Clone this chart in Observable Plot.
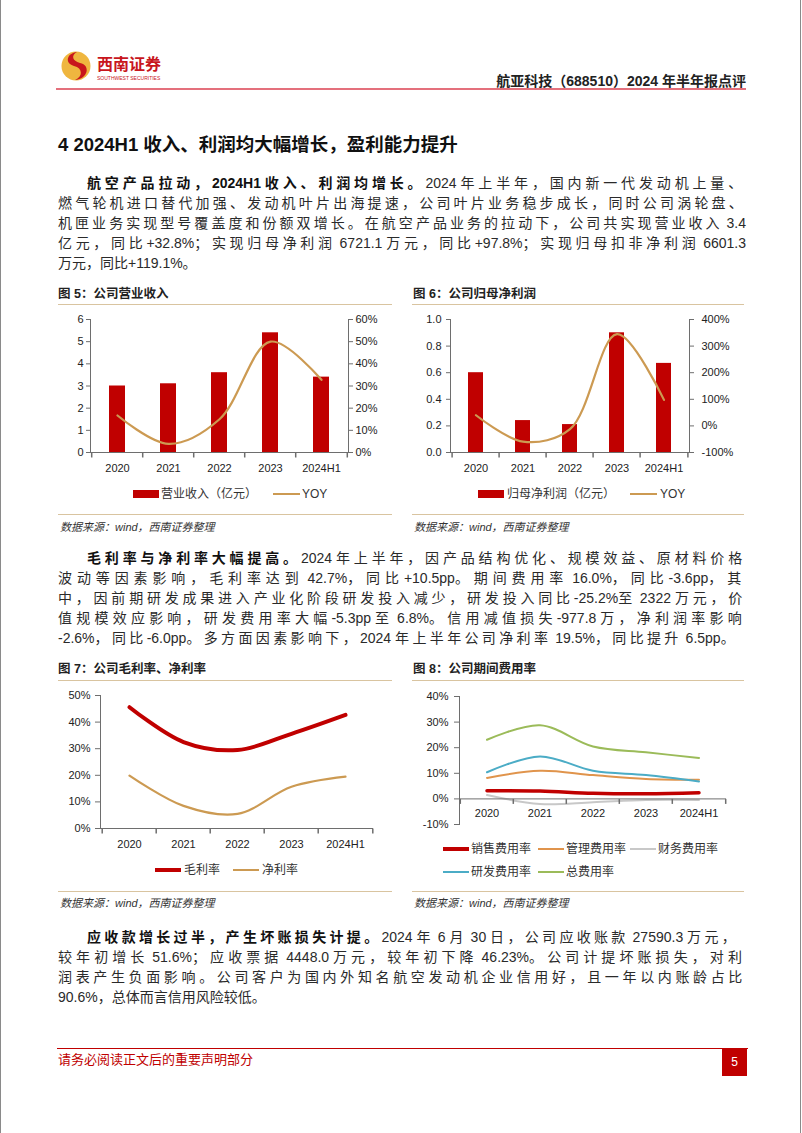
<!DOCTYPE html>
<html><head><meta charset="utf-8">
<script src="https://cdn.jsdelivr.net/npm/d3@7"></script>
<script src="https://cdn.jsdelivr.net/npm/@observablehq/plot@0.6"></script>
<style>
body{margin:0;background:#fff;}
#page{position:relative;width:802px;height:1133px;overflow:hidden;background:#fff;font-family:"Liberation Sans","Noto Sans CJK SC",sans-serif;color:#2a2a2a;}
.abs{position:absolute;white-space:nowrap;}
.ln{position:absolute;left:58px;width:688px;height:20px;line-height:20px;font-size:14px;text-align:left;white-space:nowrap;color:#2a2a2a;}
.ln.first{left:87px;width:659px;}
.ln b{font-weight:bold;color:#111;}
.ln .lat{letter-spacing:0;}
.figt{position:absolute;font-size:12.5px;font-weight:bold;line-height:16px;color:#222;white-space:nowrap;}
.rule{position:absolute;height:1px;background:#d9c4a0;}
.src{position:absolute;font-size:11px;font-style:italic;color:#333;white-space:nowrap;line-height:14px;}
.lg{position:absolute;font-size:12px;line-height:14px;color:#333;white-space:nowrap;}
.sw{position:absolute;}
</style>
</head>
<body>
<div id="page">
  <div class="abs" style="left:0;top:0;width:1px;height:1133px;background:#8a8a8a"></div>
  <div class="abs" style="left:800px;top:0;width:1px;height:1133px;background:#8a8a8a"></div>

  <svg class="abs" style="left:61px;top:51px" width="30" height="30" viewBox="0 0 30 30">
    <circle cx="15" cy="15" r="14.5" fill="#EFB63F"/>
    <path d="M16 1 C6 2,3 12,13 15 C22 17,22 26,14 29 C27 28,30 14,19 12 C11 10,10 4,16 1Z" fill="#C8161D"/>
  </svg>
  <div class="abs" style="left:97px;top:56px;font-size:16px;line-height:18px;font-weight:bold;color:#C8161D;">西南证券</div>
  <div class="abs" style="left:97px;top:75px;font-size:5px;line-height:6px;color:#C8161D;">SOUTHWEST SECURITIES</div>
  <div class="abs" style="right:56px;top:72px;font-size:14px;line-height:18px;font-weight:bold;color:#222;">航亚科技（688510）2024 年半年报点评</div>
  <div class="abs" style="left:56px;top:88px;width:690px;height:2px;background:#E4707C"></div>

  <div class="abs" style="left:58px;top:133px;font-size:18.5px;line-height:24px;font-weight:bold;color:#111;">4 2024H1 收入、利润均大幅增长，盈利能力提升</div>

  <div class="ln first just" style="top:173px"><b>航空产品拉动，2024H1 收入、利润均增长。</b>2024 年上半年，国内新一代发动机上量、</div>
  <div class="ln just" style="top:193px">燃气轮机进口替代加强、发动机叶片出海提速，公司叶片业务稳步成长，同时公司涡轮盘、</div>
  <div class="ln just" style="top:213px">机匣业务实现型号覆盖度和份额双增长。在航空产品业务的拉动下，公司共实现营业收入 3.4</div>
  <div class="ln just" style="top:233px">亿元，同比+32.8%；实现归母净利润 6721.1 万元，同比+97.8%；实现归母扣非净利润 6601.3</div>
  <div class="ln" style="top:253px">万元，同比+119.1%。</div>

  <div class="figt" style="left:58px;top:286px">图 5：公司营业收入</div>
  <div class="figt" style="left:413px;top:286px">图 6：公司归母净利润</div>
  <div class="rule" style="left:58px;top:304px;width:334px"></div>
  <div class="rule" style="left:412px;top:304px;width:332px"></div>
  <div class="rule" style="left:58px;top:514px;width:334px"></div>
  <div class="rule" style="left:412px;top:514px;width:332px"></div>
  <div class="src" style="left:60px;top:520px">数据来源：wind，西南证券整理</div>
  <div class="src" style="left:414px;top:520px">数据来源：wind，西南证券整理</div>

  <div class="ln first just" style="top:548px"><b>毛利率与净利率大幅提高。</b>2024 年上半年，因产品结构优化、规模效益、原材料价格</div>
  <div class="ln just" style="top:568px">波动等因素影响，毛利率达到 42.7%，同比+10.5pp。期间费用率 16.0%，同比-3.6pp，其</div>
  <div class="ln just" style="top:588px">中，因前期研发成果进入产业化阶段研发投入减少，研发投入同比-25.2%至 2322 万元，价</div>
  <div class="ln just" style="top:608px">值规模效应影响，研发费用率大幅-5.3pp 至 6.8%。信用减值损失-977.8 万，净利润率影响</div>
  <div class="ln just" style="top:628px;width:680px">-2.6%，同比-6.0pp。多方面因素影响下，2024 年上半年公司净利率 19.5%，同比提升 6.5pp。</div>

  <div class="figt" style="left:58px;top:661px">图 7：公司毛利率、净利率</div>
  <div class="figt" style="left:413px;top:661px">图 8：公司期间费用率</div>
  <div class="rule" style="left:58px;top:680px;width:334px"></div>
  <div class="rule" style="left:412px;top:680px;width:332px"></div>
  <div class="rule" style="left:58px;top:891px;width:334px"></div>
  <div class="rule" style="left:412px;top:891px;width:332px"></div>
  <div class="src" style="left:60px;top:896px">数据来源：wind，西南证券整理</div>
  <div class="src" style="left:414px;top:896px">数据来源：wind，西南证券整理</div>

  <div class="ln first just" style="top:927px;width:652px"><b>应收款增长过半，产生坏账损失计提。</b>2024 年 6 月 30 日，公司应收账款 27590.3 万元，</div>
  <div class="ln just" style="top:947px">较年初增长 51.6%；应收票据 4448.0 万元，较年初下降 46.23%。公司计提坏账损失，对利</div>
  <div class="ln just" style="top:967px">润表产生负面影响。公司客户为国内外知名航空发动机企业信用好，且一年以内账龄占比</div>
  <div class="ln" style="top:987px">90.6%，总体而言信用风险较低。</div>

  <div class="abs" style="left:57px;top:1048px;width:691px;height:1px;background:#C00000"></div>
  <div class="abs" style="left:58px;top:1052px;font-size:13px;line-height:16px;color:#C00000;">请务必阅读正文后的重要声明部分</div>
  <div class="abs" style="left:722px;top:1049px;width:25px;height:27px;background:#C00000;color:#fff;font-size:12px;line-height:27px;text-align:center;">5</div>
</div>

<script>
// ---------------- data ----------------
const years = ["2020", "2021", "2022", "2023", "2024H1"];
const revenue = [3.0, 3.1, 3.6, 5.4, 3.4];            // 亿元
const revenueYoy = [16.7, 3.9, 15.0, 50.0, 32.8];       // %
const netProfit = [0.60, 0.24, 0.21, 0.90, 0.67];      // 亿元
const netProfitYoy = [40, -59, -12, 345, 97.8];        // %
const grossMargin = [45.6, 32.5, 29.5, 35.6, 42.7];    // %
const netMargin = [19.9, 8.5, 5.5, 15.7, 19.5];        // %
const salesRate = [3.2, 3.1, 2.2, 2.0, 2.4];
const mgmtRate = [8.2, 11.0, 9.3, 7.8, 7.5];
const finRate = [1.5, -2.0, -1.3, -0.4, -0.4];
const rdRate = [10.4, 16.6, 11.0, 9.3, 6.8];
const totalRate = [23.1, 28.8, 20.5, 18.2, 16.0];
const revTicks = [0, 1, 2, 3, 4, 5, 6];
const revYoyTicks = [0, 10, 20, 30, 40, 50, 60];
const npTicks = [0, 0.2, 0.4, 0.6, 0.8, 1.0];
const npYoyTicks = [-100, 0, 100, 200, 300, 400];
const marginTicks = [0, 10, 20, 30, 40, 50];
const rateTicks = [-10, 0, 10, 20, 30, 40];
const revLabels = ["营业收入（亿元）", "YOY"];
const npLabels = ["归母净利润（亿元）", "YOY"];
const marginLabels = ["毛利率", "净利率"];
const rateNames = ["销售费用率", "管理费用率", "财务费用率", "研发费用率", "总费用率"];
const rateSeries = [salesRate, mgmtRate, finRate, rdRate, totalRate];

// ---------------- styles ----------------
const FONT = '"Liberation Sans","Noto Sans CJK SC",sans-serif';
const AXIS = "#6e6e6e";
const TXT = "#222";
const RED = "#C00000";
const TAN = "#CC9A52";
const rateColors = ["#C00000", "#E0944C", "#C8C8C8", "#4BACC6", "#9BBB59"];
const rateWidths = [3.5, 2, 2, 2, 2];

const page = document.getElementById("page");

// even inter-character justification of body lines (Latin runs keep normal spacing)
function wrapLatin(node) {
  [...node.childNodes].forEach(ch => {
    if (ch.nodeType === 3) {
      const parts = ch.textContent.split(/([\x20-\x7e]+)/);
      const frag = document.createDocumentFragment();
      parts.forEach(p => {
        if (!p) return;
        if (/^[\x20-\x7e]+$/.test(p)) {
          const s = document.createElement("span");
          s.className = "lat";
          s.textContent = p;
          frag.appendChild(s);
        } else frag.appendChild(document.createTextNode(p));
      });
      ch.replaceWith(frag);
    } else if (ch.nodeType === 1) wrapLatin(ch);
  });
}
document.querySelectorAll(".ln.just").forEach(el => {
  wrapLatin(el);
  const target = el.clientWidth;
  const range = document.createRange();
  range.selectNodeContents(el);
  const w = range.getBoundingClientRect().width;
  const n = [...el.textContent.replace(/[\x20-\x7e]/g, "")].length;
  if (n > 1 && target > w) el.style.letterSpacing = ((target - w) / n) + "px";
});

const rows = (vals) => years.map((c, i) => ({year: c, value: vals[i]}));
const tickDown = {draw(ctx) { ctx.moveTo(0, 0); ctx.lineTo(0, 5); }};
const baseStyle = {background: "transparent", fontFamily: FONT, fontSize: "11px", color: TXT, overflow: "visible"};

function place(svg, left, top) {
  svg.style.position = "absolute";
  svg.style.left = left + "px";
  svg.style.top = top + "px";
  page.appendChild(svg);
}

function xBoundaryTicks(step, yAt) {
  return [
    Plot.dot(years, {x: d => d, y: () => yAt, dx: -step / 2, symbol: tickDown, r: 2, stroke: AXIS, fill: "none"}),
    Plot.dot(years.slice(-1), {x: d => d, y: () => yAt, dx: step / 2, symbol: tickDown, r: 2, stroke: AXIS, fill: "none"})
  ];
}

function combo({left, top, width, height, m, bars, yDom, yTicks, yFmt, yTickSize, yPad, line, y2Dom, y2Ticks, y2Fmt, y2Pad}) {
  const step = (width - m.left - m.right) / years.length;
  const xs = {type: "band", domain: years, paddingInner: 0.68, paddingOuter: 0.34, axis: null};
  const common = {width, height, marginTop: m.top, marginRight: m.right, marginBottom: m.bottom, marginLeft: m.left, style: baseStyle};
  const main = Plot.plot({
    ...common,
    x: xs,
    y: {domain: yDom, axis: null},
    marks: [
      Plot.barY(rows(bars), {x: "year", y: "value", fill: RED}),
      Plot.frame({anchor: "left", stroke: AXIS}),
      Plot.ruleY([yDom[0]], {stroke: AXIS}),
      Plot.axisY({anchor: "left", ticks: yTicks, tickFormat: yFmt, tickSize: yTickSize, tickPadding: yPad, label: null, stroke: AXIS, fill: TXT}),
      ...xBoundaryTicks(step, yDom[0]),
      Plot.text(years, {x: d => d, y: () => yDom[0], dy: 16, text: d => d, fill: TXT})
    ]
  });
  place(main, left, top);
  const over = Plot.plot({
    ...common,
    x: xs,
    y: {domain: y2Dom, axis: null},
    marks: [
      Plot.frame({anchor: "right", stroke: AXIS}),
      Plot.axisY({anchor: "right", ticks: y2Ticks, tickFormat: y2Fmt, tickSize: 4, tickPadding: y2Pad, label: null, stroke: AXIS, fill: TXT}),
      Plot.lineY(rows(line), {x: "year", y: "value", stroke: TAN, strokeWidth: 2.2, curve: "catmull-rom"})
    ]
  });
  place(over, left, top);
}

// Figure 5
combo({left: 50, top: 305, width: 345, height: 180, m: {top: 14, right: 47, bottom: 33, left: 40},
  bars: revenue, yDom: [0, 6], yTicks: revTicks, yFmt: d => String(d), yTickSize: 4, yPad: 3,
  line: revenueYoy, y2Dom: [0, 60], y2Ticks: revYoyTicks, y2Fmt: d => d + "%", y2Pad: 3});

// Figure 6
combo({left: 405, top: 305, width: 345, height: 180, m: {top: 14, right: 61, bottom: 33, left: 45},
  bars: netProfit, yDom: [0, 1], yTicks: npTicks, yFmt: d3.format(".1f"), yTickSize: 4, yPad: 5,
  line: netProfitYoy, y2Dom: [-100, 400], y2Ticks: npYoyTicks, y2Fmt: d => d + "%", y2Pad: 8});

// Figure 7
(function () {
  const width = 340, height = 175, m = {top: 15, right: 17, bottom: 27, left: 50};
  const step = (width - m.left - m.right) / years.length;
  const svg = Plot.plot({
    width, height, marginTop: m.top, marginRight: m.right, marginBottom: m.bottom, marginLeft: m.left, style: baseStyle,
    x: {type: "band", domain: years, paddingInner: 0, paddingOuter: 0, axis: null},
    y: {domain: [0, 50], axis: null},
    marks: [
      Plot.frame({anchor: "left", stroke: AXIS}),
      Plot.ruleY([0], {stroke: AXIS}),
      Plot.axisY({anchor: "left", ticks: marginTicks, tickFormat: d => d + "%", tickSize: 5, tickPadding: 5, label: null, stroke: AXIS, fill: TXT}),
      ...xBoundaryTicks(step, 0),
      Plot.text(years, {x: d => d, y: () => 0, dy: 16, text: d => d, fill: TXT}),
      Plot.lineY(rows(netMargin), {x: "year", y: "value", stroke: TAN, strokeWidth: 2.2, curve: "catmull-rom"}),
      Plot.lineY(rows(grossMargin), {x: "year", y: "value", stroke: RED, strokeWidth: 4, curve: "catmull-rom"})
    ]
  });
  place(svg, 50, 680);
})();

// Figure 8
(function () {
  const width = 340, height = 155, m = {top: 16, right: 19, bottom: 11, left: 54};
  const step = (width - m.left - m.right) / years.length;
  const svg = Plot.plot({
    width, height, marginTop: m.top, marginRight: m.right, marginBottom: m.bottom, marginLeft: m.left, style: baseStyle,
    x: {type: "band", domain: years, paddingInner: 0, paddingOuter: 0, axis: null},
    y: {domain: [-10, 40], axis: null},
    marks: [
      Plot.frame({anchor: "left", stroke: AXIS}),
      Plot.axisY({anchor: "left", ticks: rateTicks, tickFormat: d => d + "%", tickSize: 5, tickPadding: 6, label: null, stroke: AXIS, fill: TXT}),
      ...rateSeries.map((s, k) => Plot.lineY(rows(s), {x: "year", y: "value", stroke: rateColors[k], strokeWidth: rateWidths[k], curve: "catmull-rom"})),
      Plot.ruleY([0], {stroke: AXIS}),
      ...xBoundaryTicks(step, 0),
      Plot.text(years, {x: d => d, y: () => 0, dy: 15, text: d => d, fill: TXT})
    ]
  });
  place(svg, 405, 680);
})();

// ---------------- legends ----------------
function swatch(color, x, y, w, t) {
  const d = document.createElement("div");
  d.className = "sw";
  d.style.left = x + "px";
  d.style.width = w + "px";
  d.style.top = (y - t / 2) + "px";
  d.style.height = t + "px";
  d.style.background = color;
  page.appendChild(d);
}
function label(text, x, y) {
  const d = document.createElement("div");
  d.className = "lg";
  d.textContent = text;
  d.style.left = x + "px";
  d.style.top = (y - 7) + "px";
  page.appendChild(d);
}
// fig 5
swatch(RED, 133, 494, 26, 8); label(revLabels[0], 161, 494);
swatch(TAN, 273, 494, 27, 2.2); label(revLabels[1], 302, 494);
// fig 6
swatch(RED, 478, 494, 26, 8); label(npLabels[0], 507, 494);
swatch(TAN, 630, 494, 27, 2.2); label(npLabels[1], 660, 494);
// fig 7
swatch(RED, 155, 870, 26, 4); label(marginLabels[0], 184, 870);
swatch(TAN, 233, 870, 26, 2.2); label(marginLabels[1], 262, 870);
// fig 8
const lgPos = [[443, 849], [538, 849], [630, 849], [443, 872], [538, 872]];
rateNames.forEach((n, k) => {
  const [x, y] = lgPos[k];
  swatch(rateColors[k], x, y, 26, rateWidths[k] + 0.5);
  label(n, x + 28, y);
});
</script>
</body></html>
